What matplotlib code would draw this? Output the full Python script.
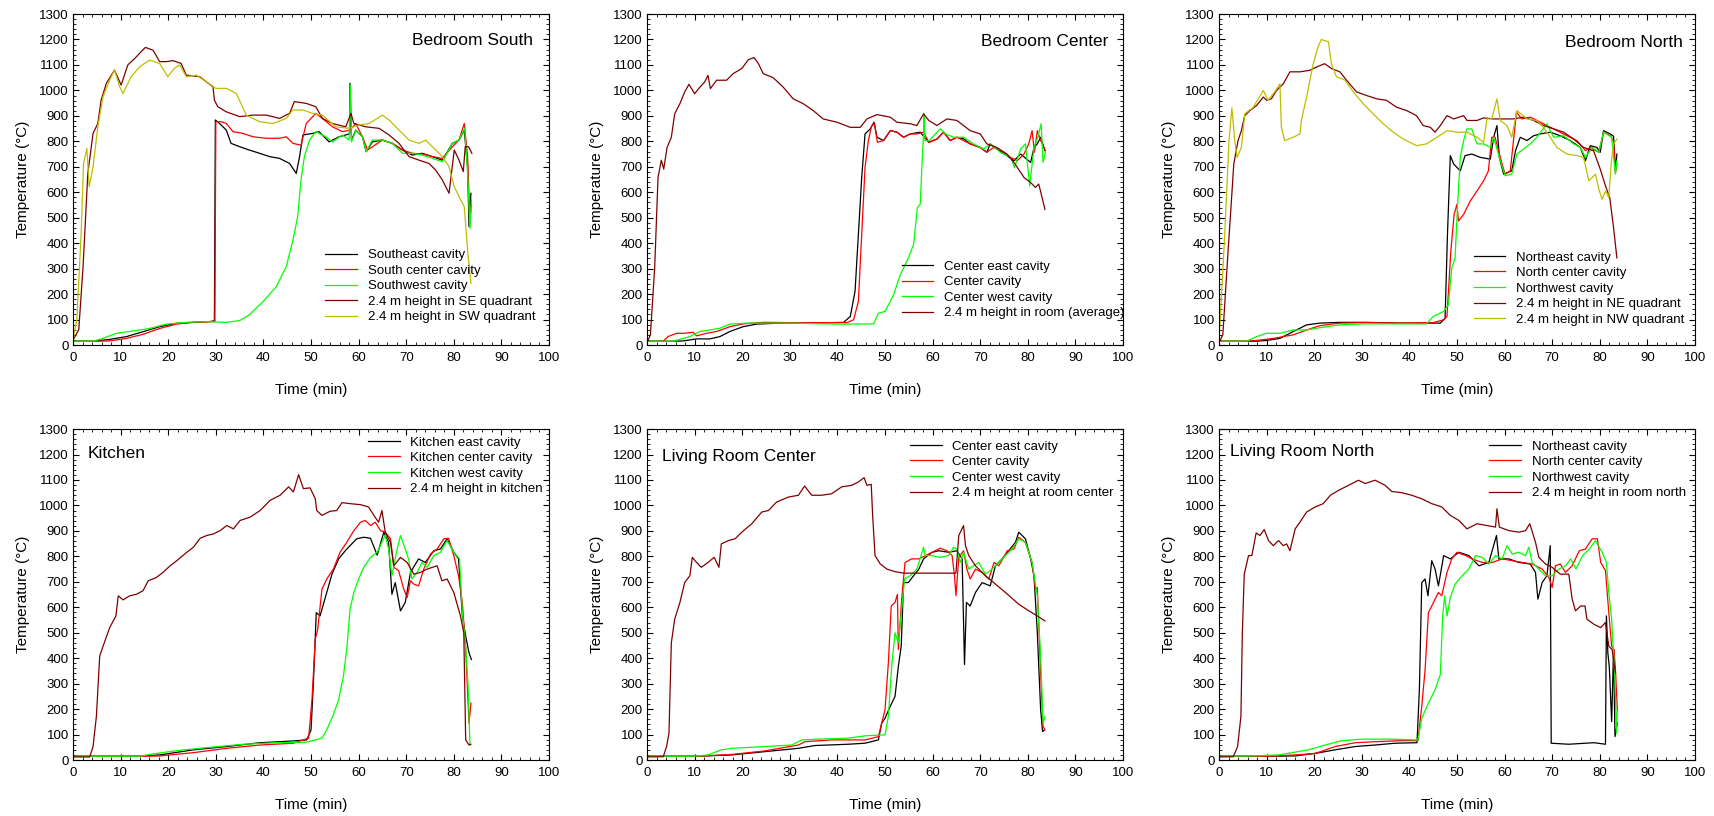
import numpy as np
import matplotlib
matplotlib.use('Agg')
import matplotlib.pyplot as plt
from matplotlib.ticker import MultipleLocator

plt.rcParams['font.family'] = ['Liberation Sans', 'DejaVu Sans']

# (time min, temperature C) pairs
# ---- Bedroom South
bs_se = [(0,15),(4.2,15),(7.7,22),(11.2,33),(14.7,52),(18.2,72),(21.7,85),(25.2,89),(28.7,92),(29.7,95),(29.9,884),(30.8,870),(32.2,844),(33.2,792),(35.0,779),(37.0,766),(39.2,753),(41.3,740),(43.4,733),(45.5,713),(46.9,674),(47.6,740),(48.3,825),(50.3,831),(51.7,838),(53.8,798),(55.9,818),(57.3,825),(58.1,830),(58.2,1028),(58.5,805),(59.4,844),(60.8,818),(61.6,759),(62.9,798),(65.0,805),(67.1,792),(69.2,766),(71.3,746),(73.4,753),(75.5,740),(77.6,726),(79.7,792),(81.1,805),(82.2,844),(82.9,700),(83.2,465),(83.6,596)]
bs_sc = [(0,15),(4.2,15),(7.7,16),(11.2,26),(14.7,42),(18.2,65),(21.7,82),(25.2,89),(29.8,92),(30.0,877),(31.1,877),(32.2,870),(33.6,838),(35.7,831),(37.8,818),(40.6,812),(43.4,812),(44.8,818),(46.2,792),(47.9,785),(49.0,870),(51.0,910),(52.4,890),(54.5,857),(56.6,838),(58.2,844),(59.4,870),(60.8,818),(61.9,766),(65.0,805),(67.1,792),(69.2,766),(71.3,753),(73.4,750),(75.5,740),(77.6,733),(79.7,779),(81.1,805),(82.2,870),(82.9,740),(83.4,479),(83.7,555)]
bs_sw = [(0,15),(4.2,15),(6.3,26),(9.1,46),(12.6,55),(16.1,65),(19.6,82),(23.8,89),(28.0,92),(32.2,89),(35.0,96),(37.0,118),(39.9,170),(42.7,229),(44.8,308),(46.2,412),(47.2,504),(47.9,648),(48.6,740),(49.7,805),(51.0,838),(53.1,818),(54.5,798),(56.6,825),(58.0,805),(58.3,1021),(58.5,798),(59.4,844),(60.8,818),(61.6,759),(62.9,805),(65.0,805),(67.1,792),(69.2,753),(71.3,753),(73.4,746),(75.5,733),(77.6,720),(79.7,792),(81.1,805),(82.3,851),(82.9,674),(83.4,458),(83.7,570)]
bs_se24 = [(0,20),(1.2,60),(2.1,307),(3.1,674),(4.2,831),(5.2,870),(5.9,962),(7.0,1028),(8.7,1080),(10.1,1021),(11.5,1100),(13.0,1126),(14.3,1152),(15.2,1169),(16.8,1158),(18.2,1113),(19.6,1113),(21.0,1117),(22.7,1106),(23.8,1060),(26.6,1054),(29.4,1014),(29.7,962),(30.4,936),(32.2,916),(35.0,897),(37.8,903),(40.6,903),(43.4,890),(45.5,910),(46.5,956),(49.0,949),(51.0,936),(52.4,890),(54.5,870),(57.3,857),(58.4,910),(59.0,870),(61.5,857),(64.3,851),(66.4,825),(68.5,792),(70.6,740),(72.7,726),(74.8,713),(76.2,687),(77.6,648),(79.0,596),(80.1,766),(81.1,726),(82.0,681),(82.4,779),(83.1,779),(83.8,753)]
bs_sw24 = [(0,20),(0.8,100),(1.7,438),(2.2,713),(2.9,772),(3.4,622),(4.2,700),(5.2,857),(6.3,975),(7.7,1041),(8.7,1080),(9.8,1014),(10.5,988),(12.2,1054),(14.0,1093),(16.1,1119),(18.2,1106),(19.9,1054),(21.3,1087),(22.4,1100),(23.8,1054),(25.9,1060),(28.0,1034),(30.0,1008),(32.2,1008),(34.3,988),(36.4,903),(39.2,877),(42.0,870),(44.8,890),(46.2,923),(48.3,923),(50.3,910),(52.4,903),(55.2,857),(58.0,851),(60.1,864),(62.2,870),(65.0,903),(66.4,884),(68.5,844),(70.6,805),(72.7,792),(74.1,805),(76.2,766),(77.6,740),(79.0,700),(80.1,622),(81.1,583),(82.2,543),(82.9,373),(83.6,242)]

# ---- Bedroom Center
bc_east = [(0,15),(5.5,15),(7.6,16),(10.4,24),(13.2,24),(15.3,33),(17.4,53),(20.2,72),(23.0,82),(27.9,86),(34.9,86),(41.3,89),(42.7,112),(43.7,211),(44.4,434),(45.1,658),(45.8,829),(46.9,849),(47.7,875),(48.3,816),(49.7,803),(51.1,842),(52.5,836),(53.9,816),(55.3,829),(57.4,836),(58.1,820),(59.2,796),(60.9,809),(62.3,836),(63.7,803),(65.1,816),(66.5,810),(67.9,790),(70.0,776),(71.4,757),(72.1,790),(73.5,770),(75.6,744),(77.1,724),(78.5,750),(80.6,717),(81.3,776),(82.0,790),(82.7,816),(83.6,763)]
bc_center = [(0,15),(3.4,15),(4.4,33),(6.2,46),(7.9,46),(9.7,50),(10.4,36),(12.5,46),(14.6,53),(17.4,72),(20.2,83),(24.4,89),(30.0,88),(42.0,88),(43.4,99),(44.4,171),(45.1,434),(45.8,697),(46.5,803),(47.2,862),(47.8,869),(48.4,796),(49.7,803),(51.1,842),(52.5,836),(53.9,816),(55.3,829),(56.7,829),(58.1,836),(59.2,796),(60.9,809),(62.3,836),(63.7,803),(65.1,816),(66.5,803),(67.9,790),(70.0,776),(71.4,757),(72.8,776),(75.0,757),(76.4,737),(77.8,724),(79.2,750),(80.2,790),(80.9,842),(81.4,757),(82.0,842),(82.7,803),(83.7,763)]
bc_west = [(0,15),(5.5,15),(7.6,26),(9.0,33),(11.1,53),(13.2,59),(15.3,66),(17.4,82),(20.9,86),(30.0,86),(40.0,82),(47.6,83),(48.6,125),(50.0,132),(51.8,197),(53.2,276),(54.9,342),(56.0,395),(56.8,540),(57.4,553),(57.8,724),(58.1,829),(58.2,908),(58.4,803),(59.3,803),(61.6,849),(62.7,829),(64.4,816),(66.5,816),(68.6,790),(70.7,770),(72.1,790),(74.2,757),(76.4,737),(77.2,697),(78.5,770),(79.5,790),(80.4,625),(81.3,776),(82.1,816),(82.8,869),(83.2,717),(83.7,757)]
bc_room = [(0,10),(0.7,40),(1.6,303),(2.3,658),(3.0,726),(3.5,691),(4.2,776),(5.1,816),(5.8,908),(6.9,948),(7.9,994),(8.8,1024),(10.0,987),(11.1,1013),(12.1,1033),(12.8,1059),(13.3,1007),(14.6,1040),(16.7,1040),(18.1,1066),(19.9,1086),(21.3,1121),(22.5,1129),(23.4,1105),(24.4,1066),(26.5,1050),(28.6,1013),(30.7,967),(32.8,948),(34.9,921),(37.0,888),(39.9,875),(42.7,855),(44.8,855),(46.2,888),(48.3,905),(51.1,895),(52.5,875),(55.3,869),(56.7,862),(58.1,908),(59.2,882),(60.9,862),(63.0,888),(65.1,882),(66.5,862),(67.9,842),(70.0,829),(71.4,790),(73.5,776),(75.6,750),(77.1,717),(79.2,658),(80.6,638),(81.6,619),(82.3,632),(83.0,579),(83.6,533)]

# ---- Bedroom North
bn_ne = [(0,15),(8.0,15),(10.0,18),(12.8,26),(15.6,53),(18.4,79),(21.2,86),(25.4,89),(31.0,89),(38.0,86),(46.5,86),(47.5,105),(48.0,434),(48.6,744),(49.3,711),(50.7,684),(51.7,744),(53.1,750),(54.9,737),(57.0,730),(57.7,816),(58.4,862),(58.9,737),(59.8,671),(61.5,684),(62.3,763),(63.3,816),(64.7,803),(66.1,822),(67.5,829),(69.6,836),(71.7,822),(73.8,803),(75.9,776),(77.0,724),(78.0,783),(79.4,776),(80.1,757),(80.8,842),(82.2,829),(82.9,820),(83.3,684),(83.6,750)]
bn_nc = [(0,15),(5.8,15),(7.9,18),(11.4,26),(15.6,40),(18.4,59),(21.2,76),(25.4,86),(31.0,88),(38.0,86),(45.0,88),(47.2,99),(47.9,112),(48.7,368),(49.4,513),(50.0,553),(50.3,487),(51.4,513),(52.8,566),(54.2,605),(55.6,645),(56.6,684),(57.3,816),(58.0,816),(59.1,737),(60.1,671),(61.2,684),(62.5,915),(63.6,888),(65.4,895),(66.8,882),(68.9,862),(71.0,842),(73.1,822),(75.2,803),(77.0,763),(78.0,776),(79.8,757),(80.8,836),(82.2,822),(82.9,800),(83.3,678),(83.6,711)]
bn_nw = [(0,15),(5.8,15),(7.9,33),(10.0,46),(12.8,46),(15.6,59),(18.4,59),(21.2,68),(25.4,79),(31.0,83),(43.6,83),(45.0,112),(47.2,132),(48.2,158),(48.9,303),(49.6,342),(50.1,540),(50.7,737),(51.4,803),(52.1,849),(53.1,849),(54.2,790),(55.6,790),(57.0,776),(57.7,816),(58.9,737),(60.1,665),(61.5,671),(62.6,750),(64.0,770),(65.4,790),(66.8,816),(68.9,869),(70.3,816),(72.4,822),(74.5,790),(75.9,776),(77.0,737),(78.4,776),(79.8,757),(80.8,836),(82.5,816),(83.3,671),(83.6,724)]
bn_ne24 = [(0,10),(0.8,40),(1.9,368),(2.6,566),(3.1,711),(4.0,803),(4.7,842),(5.4,901),(6.5,921),(7.9,941),(9.3,974),(10.0,961),(11.0,967),(12.1,1000),(13.5,1026),(14.9,1073),(17.0,1073),(19.1,1079),(20.5,1092),(22.2,1105),(23.6,1086),(25.4,1073),(26.8,1040),(28.9,994),(31.0,980),(33.1,967),(35.2,961),(37.3,934),(39.4,921),(41.5,901),(42.9,862),(44.4,855),(45.4,836),(46.5,862),(47.9,901),(49.3,888),(51.4,901),(52.1,882),(54.2,882),(55.6,892),(57.7,888),(61.9,888),(64.0,895),(66.1,882),(68.2,862),(70.3,849),(72.4,836),(74.5,809),(76.6,776),(78.7,763),(80.1,691),(81.2,625),(82.1,579),(82.9,461),(83.6,342)]
bn_nw24 = [(0,15),(1.2,434),(2.1,803),(2.7,932),(3.3,803),(3.8,737),(4.7,776),(5.4,908),(7.2,934),(9.3,1000),(10.3,961),(11.7,994),(12.8,1026),(13.1,855),(13.8,803),(15.6,816),(17.0,829),(17.3,882),(18.4,974),(19.8,1105),(20.8,1171),(21.5,1200),(23.0,1191),(23.6,1105),(24.7,1053),(26.5,1040),(28.2,994),(30.3,948),(32.4,908),(34.5,869),(36.6,836),(38.7,809),(41.5,783),(43.6,790),(45.8,816),(47.9,842),(50.0,836),(52.1,836),(54.2,816),(55.6,796),(56.3,888),(57.3,888),(58.4,967),(59.1,882),(60.5,862),(61.5,816),(62.6,921),(64.7,888),(66.8,882),(68.2,855),(69.6,816),(71.0,776),(73.1,750),(75.2,744),(76.6,737),(77.7,645),(79.1,671),(79.8,612),(80.5,572),(81.2,605),(81.9,579),(82.4,711),(82.9,790),(83.6,809)]

# ---- Kitchen
k_east = [(0,15),(14.0,15),(18.2,20),(25.3,40),(32.3,53),(39.3,68),(46.3,75),(49.1,79),(50.0,118),(50.5,303),(51.1,579),(51.9,566),(53.0,638),(54.4,730),(55.8,790),(57.2,822),(58.2,842),(59.6,869),(61.1,875),(62.5,871),(63.9,805),(65.3,895),(66.3,855),(67.0,651),(67.7,697),(68.8,586),(69.8,619),(70.9,737),(72.6,790),(74.0,776),(75.8,822),(77.2,829),(78.6,869),(80.0,816),(81.0,790),(81.8,566),(82.5,487),(83.2,421),(83.7,395)]
k_center = [(0,15),(15.0,15),(18.2,16),(25.3,29),(32.3,46),(39.3,59),(46.3,66),(49.5,86),(50.2,237),(50.9,474),(51.4,513),(52.3,671),(53.3,711),(54.7,750),(56.1,816),(57.5,855),(59.0,901),(60.4,934),(61.4,941),(62.5,921),(63.5,934),(64.6,901),(65.6,895),(66.7,869),(67.4,757),(68.4,744),(69.5,671),(70.2,638),(70.9,704),(71.6,691),(72.6,684),(73.7,750),(75.1,809),(76.5,829),(77.9,869),(78.9,871),(80.0,803),(81.0,724),(81.8,619),(82.5,434),(83.2,145),(83.6,224)]
k_west = [(0,15),(14.0,15),(16.8,24),(21.8,37),(28.8,50),(35.8,62),(42.8,68),(49.1,70),(52.3,86),(53.3,118),(54.7,178),(55.8,237),(56.8,329),(57.5,434),(58.2,592),(59.0,658),(60.0,711),(61.1,757),(62.5,796),(63.9,816),(64.9,855),(65.6,882),(66.3,829),(67.0,724),(68.1,829),(68.8,882),(69.8,829),(70.5,790),(71.2,711),(72.3,737),(73.3,776),(74.4,757),(75.8,803),(77.2,816),(78.6,862),(80.0,816),(81.2,790),(81.8,579),(82.5,447),(83.0,290),(83.4,59)]
k_24 = [(0,12),(3.5,12),(4.2,53),(4.9,171),(5.6,408),(6.3,447),(7.7,520),(9.0,566),(9.5,645),(10.5,629),(11.9,645),(13.3,651),(14.7,665),(15.8,704),(17.5,717),(18.9,737),(20.4,763),(21.8,783),(23.9,816),(25.3,836),(26.7,871),(28.1,882),(29.5,888),(30.9,901),(32.3,921),(33.7,908),(35.1,941),(37.2,954),(39.3,980),(41.4,1020),(43.5,1040),(45.3,1073),(46.3,1053),(47.4,1121),(48.4,1066),(49.8,1069),(50.9,1026),(51.2,980),(52.3,961),(54.0,977),(55.4,980),(56.5,1011),(58.2,1007),(60.4,1003),(62.1,994),(63.2,961),(64.2,934),(64.9,980),(65.6,895),(66.7,855),(67.4,763),(68.8,796),(70.2,776),(71.6,730),(73.0,737),(74.4,750),(76.5,763),(77.5,704),(78.6,711),(80.0,658),(81.4,566),(82.1,500),(82.5,79),(83.2,59),(83.6,62)]

# ---- Living Room Center
lc_east = [(0,15),(10.7,15),(17.8,20),(24.8,33),(31.8,46),(35.3,57),(42.3,62),(45.8,66),(48.6,79),(49.3,145),(50.0,164),(51.1,211),(52.1,250),(52.8,368),(53.4,447),(53.9,697),(54.9,697),(56.0,724),(57.1,750),(58.1,790),(59.9,816),(61.3,822),(63.4,816),(65.1,822),(66.2,790),(66.7,375),(67.1,619),(67.9,605),(69.0,658),(70.4,697),(72.1,684),(73.2,763),(74.6,790),(76.0,822),(77.4,855),(78.1,895),(79.5,869),(80.6,790),(81.3,724),(82.0,500),(82.7,197),(83.1,112),(83.5,118)]
lc_center = [(0,15),(10.7,15),(17.8,22),(24.8,36),(31.8,59),(33.2,72),(38.8,79),(45.8,79),(48.6,92),(50.0,197),(50.7,382),(51.3,605),(52.1,619),(52.6,651),(52.8,434),(53.5,632),(54.2,776),(55.6,790),(57.1,790),(58.5,803),(59.9,816),(61.6,832),(63.0,822),(64.1,803),(64.6,724),(64.9,645),(65.5,796),(66.5,822),(67.2,750),(67.9,711),(69.0,750),(70.4,737),(71.8,711),(72.9,776),(73.9,763),(75.7,822),(77.1,829),(78.1,875),(79.5,855),(80.9,776),(81.6,671),(82.0,678),(82.7,342),(83.2,132),(83.6,118)]
lc_west = [(0,15),(10.0,15),(12.8,20),(15.6,40),(17.8,46),(24.8,53),(30.4,59),(32.5,79),(36.0,82),(42.3,86),(45.8,95),(50.0,99),(50.7,171),(51.4,368),(52.1,500),(52.8,461),(53.5,592),(54.1,711),(55.3,724),(56.7,750),(58.1,836),(58.4,803),(59.9,803),(61.6,796),(63.4,803),(64.4,836),(65.1,829),(65.8,776),(66.5,816),(67.6,750),(68.6,763),(69.7,776),(71.1,730),(72.5,750),(73.9,776),(75.3,803),(76.7,829),(78.1,869),(79.5,855),(80.9,776),(82.0,645),(82.7,408),(83.2,145),(83.6,171)]
lc_24 = [(0,12),(3.4,13),(4.1,53),(4.6,105),(5.1,461),(5.8,553),(6.9,619),(7.9,697),(9.0,724),(9.5,796),(10.4,776),(11.4,757),(12.8,776),(14.1,796),(15.1,757),(15.6,849),(17.1,862),(18.5,869),(19.9,895),(22.0,928),(24.1,974),(25.5,980),(27.2,1013),(29.7,1033),(31.8,1040),(33.1,1076),(34.6,1040),(36.7,1040),(38.8,1046),(40.9,1073),(43.0,1079),(44.4,1092),(45.6,1109),(46.2,1079),(47.1,1083),(47.4,961),(47.9,803),(49.0,770),(50.4,750),(52.1,740),(53.9,734),(64.9,734),(65.5,882),(66.5,921),(66.9,842),(67.6,803),(69.0,763),(71.1,724),(73.2,691),(75.3,658),(78.1,612),(80.2,586),(82.0,566),(83.6,546)]

# ---- Living Room North
ln_ne = [(0,15),(10.4,15),(16.0,16),(20.2,26),(24.4,40),(28.6,53),(32.8,59),(37.0,66),(41.6,68),(42.1,276),(42.6,697),(43.3,711),(43.9,645),(44.7,783),(45.4,750),(46.1,684),(47.2,803),(48.6,790),(50.4,816),(52.5,803),(54.6,763),(56.7,776),(58.3,882),(58.8,790),(60.9,790),(63.0,776),(65.4,770),(66.5,737),(67.0,632),(67.9,697),(68.9,724),(69.6,842),(69.8,66),(73.5,62),(77.0,66),(78.8,68),(81.2,62),(81.4,566),(81.7,421),(82.0,368),(82.5,151),(82.9,434),(83.2,92),(83.7,145)]
ln_nc = [(0,15),(10.4,15),(16.0,20),(20.2,26),(24.4,53),(28.6,68),(32.8,72),(38.4,76),(41.8,76),(42.6,211),(43.3,355),(44.0,579),(44.7,605),(45.4,632),(46.1,658),(46.8,645),(47.9,737),(48.9,790),(50.0,816),(51.8,803),(53.2,790),(55.3,776),(57.4,776),(59.5,790),(61.6,783),(63.7,776),(65.8,770),(67.9,750),(69.3,717),(70.0,678),(70.7,763),(71.7,770),(72.8,737),(74.2,763),(75.7,822),(77.0,829),(78.4,869),(79.5,869),(80.2,776),(81.2,744),(81.9,579),(82.5,447),(83.0,434),(83.3,355),(83.7,197)]
ln_nw = [(0,15),(6.9,16),(12.5,20),(18.8,40),(22.3,59),(25.8,76),(30.0,82),(35.6,82),(41.8,79),(42.6,164),(44.0,224),(45.4,276),(46.5,336),(47.0,566),(47.4,645),(47.9,566),(48.6,638),(49.6,691),(51.1,724),(52.5,750),(53.9,803),(55.3,796),(56.7,770),(58.1,803),(59.5,790),(60.5,842),(61.6,809),(63.0,816),(64.4,803),(65.1,836),(65.8,776),(67.2,750),(68.6,724),(70.0,724),(71.4,750),(72.8,763),(73.9,790),(75.0,750),(76.4,803),(77.8,829),(79.1,862),(80.5,816),(81.4,776),(81.9,658),(82.5,553),(83.2,316),(83.5,105),(83.7,197)]
ln_24 = [(0,12),(3.0,13),(3.9,53),(4.6,171),(4.9,500),(5.3,730),(6.2,803),(6.9,803),(7.8,892),(8.6,882),(9.5,905),(10.4,862),(11.4,842),(12.5,862),(13.5,842),(14.2,849),(14.9,822),(16.0,908),(17.0,934),(18.4,974),(20.2,994),(21.9,1007),(23.4,1040),(25.1,1059),(27.2,1079),(29.3,1099),(30.7,1086),(32.8,1099),(34.9,1079),(36.3,1055),(38.4,1050),(40.5,1040),(42.6,1026),(44.7,1007),(46.8,994),(48.6,961),(50.4,941),(52.1,908),(54.2,928),(56.3,921),(58.1,915),(58.4,987),(58.9,915),(60.9,901),(63.0,895),(64.4,901),(65.3,928),(66.5,855),(67.2,796),(68.6,770),(70.0,757),(71.7,730),(73.5,730),(74.2,632),(74.9,586),(76.0,605),(76.9,605),(77.3,553),(78.8,533),(80.2,520),(81.2,540),(81.9,447),(82.6,434),(83.3,342)]

BLACK, RED, GREEN, DKRED, OLIVE = 'black', '#ff0000', '#00ff00', '#800000', '#bebe00'

panels = [
    dict(pos=(0.0426, 0.5772), title='Bedroom South', tpos=(0.966, 0.92, 'right'), lpos=(0.53, 0.29),
         series=[(bs_se, BLACK, 'Southeast cavity'), (bs_sc, RED, 'South center cavity'),
                 (bs_sw, GREEN, 'Southwest cavity'), (bs_se24, DKRED, '2.4 m height in SE quadrant'),
                 (bs_sw24, OLIVE, '2.4 m height in SW quadrant')]),
    dict(pos=(0.3773, 0.5772), title='Bedroom Center', tpos=(0.97, 0.918, 'right'), lpos=(0.535, 0.255),
         series=[(bc_east, BLACK, 'Center east cavity'), (bc_center, RED, 'Center cavity'),
                 (bc_west, GREEN, 'Center west cavity'), (bc_room, DKRED, '2.4 m height in room (average)')]),
    dict(pos=(0.7108, 0.5772), title='Bedroom North', tpos=(0.975, 0.915, 'right'), lpos=(0.535, 0.283),
         series=[(bn_ne, BLACK, 'Northeast cavity'), (bn_nc, RED, 'North center cavity'),
                 (bn_nw, GREEN, 'Northwest cavity'), (bn_ne24, DKRED, '2.4 m height in NE quadrant'),
                 (bn_nw24, OLIVE, '2.4 m height in NW quadrant')]),
    dict(pos=(0.0426, 0.0686), title='Kitchen', tpos=(0.03, 0.925, 'left'), lpos=(0.62, 0.978),
         series=[(k_east, BLACK, 'Kitchen east cavity'), (k_center, RED, 'Kitchen center cavity'),
                 (k_west, GREEN, 'Kitchen west cavity'), (k_24, DKRED, '2.4 m height in kitchen')]),
    dict(pos=(0.3773, 0.0686), title='Living Room Center', tpos=(0.032, 0.918, 'left'), lpos=(0.553, 0.966),
         series=[(lc_east, BLACK, 'Center east cavity'), (lc_center, RED, 'Center cavity'),
                 (lc_west, GREEN, 'Center west cavity'), (lc_24, DKRED, '2.4 m height at room center')]),
    dict(pos=(0.7108, 0.0686), title='Living Room North', tpos=(0.023, 0.933, 'left'), lpos=(0.568, 0.966),
         series=[(ln_ne, BLACK, 'Northeast cavity'), (ln_nc, RED, 'North center cavity'),
                 (ln_nw, GREEN, 'Northwest cavity'), (ln_24, DKRED, '2.4 m height in room north')]),
]

fig = plt.figure(figsize=(17.15, 8.16), dpi=100)

for p in panels:
    ax = fig.add_axes([p['pos'][0], p['pos'][1], 0.2775, 0.4056])
    for data, col, lab in p['series']:
        arr = np.array(data, dtype=float)
        ax.plot(arr[:, 0], arr[:, 1], color=col, lw=0.9, label=lab)
    ax.set_xlim(0, 100)
    ax.set_ylim(0, 1300)
    ax.xaxis.set_major_locator(MultipleLocator(10))
    ax.xaxis.set_minor_locator(MultipleLocator(2))
    ax.yaxis.set_major_locator(MultipleLocator(100))
    ax.yaxis.set_minor_locator(MultipleLocator(20))
    ax.tick_params(which='both', direction='in', top=True, right=True, labelsize=9.5)
    ax.tick_params(which='major', length=4, width=0.8)
    ax.tick_params(which='minor', length=2, width=0.6)
    ax.tick_params(axis='x', which='major', pad=5)
    ax.tick_params(axis='y', which='major', pad=3)
    ax.set_xlabel('Time (min)', fontsize=11, labelpad=14)
    ax.set_ylabel('Temperature (°C)', fontsize=11, labelpad=7)
    tx, ty, ha = p['tpos']
    ax.text(tx, ty, p['title'], transform=ax.transAxes, ha=ha, va='center', fontsize=12.5)
    ax.legend(loc='upper left', bbox_to_anchor=p['lpos'], frameon=False, fontsize=9.5,
              handlelength=2.4, handletextpad=0.8, labelspacing=0.25, borderpad=0, borderaxespad=0)

plt.savefig('out.png', dpi=100)
